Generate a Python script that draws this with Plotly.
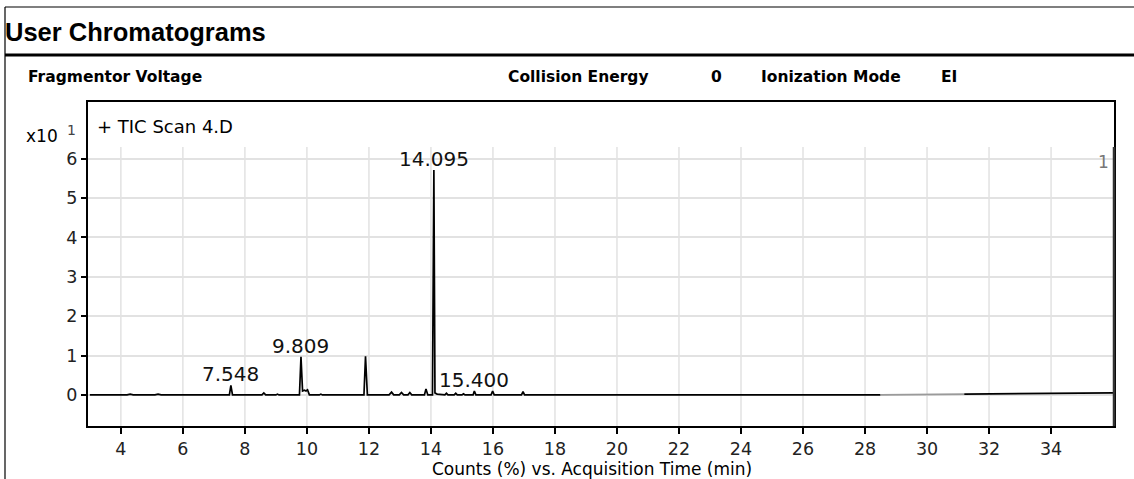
import plotly.graph_objects as go

# ---- data ----
time_min = [3.0, 4.2, 4.3, 4.4, 5.1, 5.2, 5.3, 7.50, 7.548, 7.60, 8.55, 8.61, 8.67,
            9.0, 9.05, 9.1, 9.76, 9.809, 9.86, 9.92, 9.97, 10.02, 10.08,
            10.4, 10.45, 10.5, 11.84, 11.89, 11.95, 12.65, 12.73, 12.8,
            12.98, 13.05, 13.12, 13.26, 13.32, 13.38, 13.79, 13.84, 13.9,
            14.05, 14.095, 14.13, 14.2, 14.45, 14.5, 14.55, 14.75, 14.8, 14.85,
            15.0, 15.05, 15.1, 15.36, 15.40, 15.45, 15.94, 15.99, 16.04,
            16.92, 16.97, 17.02, 28.5]
counts = [0.0, 0.0, 0.02, 0.0, 0.0, 0.02, 0.0, 0.0, 0.24, 0.0, 0.0, 0.05, 0.0,
          0.0, 0.02, 0.0, 0.0, 0.97, 0.10, 0.12, 0.10, 0.13, 0.0,
          0.0, 0.02, 0.0, 0.0, 0.98, 0.0, 0.0, 0.07, 0.0,
          0.0, 0.06, 0.0, 0.0, 0.06, 0.0, 0.0, 0.15, 0.0,
          0.0, 5.71, 0.05, 0.02, 0.0, 0.04, 0.0, 0.0, 0.04, 0.0,
          0.0, 0.03, 0.0, 0.0, 0.10, 0.0, 0.0, 0.10, 0.0,
          0.0, 0.08, 0.0, 0.0]
late_gray_t = [28.5, 31.2]
late_gray_c = [0.0, 0.02]
late_black_t = [31.2, 36.0]
late_black_c = [0.02, 0.05]

peak_labels = ["7.548", "9.809", "14.095", "15.400"]
peak_t = [7.548, 9.809, 14.095, 15.400]
peak_h = [0.24, 0.97, 5.71, 0.10]

x_ticks = [4, 6, 8, 10, 12, 14, 16, 18, 20, 22, 24, 26, 28, 30, 32, 34]
y_ticks = [0, 1, 2, 3, 4, 5, 6]

# ---- layout geometry (pixels) ----
W, H = 1134, 479
L, R, T, B = 88, 1114, 102, 426
X_RANGE = [2.94, 36.03]
Y_RANGE = [-0.79, 7.44]
FONT = "DejaVu Sans"


def px(x):
    return (x - L) / (R - L)


def py(y):
    return (B - y) / (B - T)


fig = go.Figure()
fig.add_trace(go.Scatter(x=time_min, y=counts, mode="lines",
                         line=dict(color="#000000", width=1.7), showlegend=False))
fig.add_trace(go.Scatter(x=late_gray_t, y=late_gray_c, mode="lines",
                         line=dict(color="#9a9a9a", width=1.7), showlegend=False))
fig.add_trace(go.Scatter(x=late_black_t, y=late_black_c, mode="lines",
                         line=dict(color="#000000", width=1.7), showlegend=False))

shapes = []
# vertical grid lines (stop below the header strip)
for t in x_ticks:
    shapes.append(dict(type="line", xref="x", yref="paper", x0=t, x1=t, y0=0, y1=py(147),
                       line=dict(color="#e2e2e2", width=1.5), layer="below"))
# thick right edge of the trace area
shapes.append(dict(type="line", xref="paper", yref="paper", x0=1, x1=1, y0=0, y1=py(147),
                   line=dict(color="#333333", width=2.5)))
# page frame
shapes.append(dict(type="line", xref="paper", yref="paper", x0=px(5), x1=px(5),
                   y0=py(7), y1=py(479), line=dict(color="#000000", width=1.2)))
shapes.append(dict(type="line", xref="paper", yref="paper", x0=px(5), x1=px(1134),
                   y0=py(7), y1=py(7), line=dict(color="#000000", width=1.2)))
# thick rule under the title
shapes.append(dict(type="line", xref="paper", yref="paper", x0=px(5), x1=px(1134),
                   y0=py(55), y1=py(55), line=dict(color="#000000", width=3)))

annotations = []


def text(s, x, y, size, xanchor="left", bold=False, color="#000000", family=FONT):
    annotations.append(dict(text=s, xref="paper", yref="paper", x=px(x), y=py(y),
                            xanchor=xanchor, yanchor="middle", showarrow=False,
                            font=dict(family=family, size=size, color=color,
                                      weight="bold" if bold else "normal")))


text("User Chromatograms", 3, 32, 25.5, bold=True, family="Liberation Sans")
text("Fragmentor Voltage", 26, 77, 15.5, bold=True)
text("Collision Energy", 506, 77, 15.5, bold=True)
text("0", 716, 77, 15.5, xanchor="center", bold=True)
text("Ionization Mode", 759, 77, 15.5, bold=True)
text("EI", 939, 77, 15.5, bold=True)
text("+ TIC Scan 4.D", 95, 126, 18)
text("x10", 24, 136, 17)
text("1", 71, 130, 14, xanchor="center", color="#444444")
text("1", 1103, 162, 17, xanchor="center", color="#777777")
text("Counts (%) vs. Acquisition Time (min)", 592, 469, 17, xanchor="center")

for lab, t, h in zip(peak_labels, peak_t, peak_h):
    annotations.append(dict(text=lab, xref="x", yref="y", x=t, y=h, xanchor="center",
                            yanchor="bottom", showarrow=False, yshift=-3,
                            font=dict(family=FONT, size=20, color="#111111")))

fig.update_layout(
    width=W, height=H,
    margin=dict(l=L, r=W - R, t=T, b=H - B),
    paper_bgcolor="white", plot_bgcolor="white",
    shapes=shapes, annotations=annotations,
    xaxis=dict(range=X_RANGE, tickvals=x_ticks, ticks="outside", ticklen=6, tickwidth=1.5,
               tickcolor="#000000", showgrid=False, zeroline=False,
               showline=True, linecolor="#000000", linewidth=2, mirror=True,
               tickfont=dict(family=FONT, size=17.5, color="#222222")),
    yaxis=dict(range=Y_RANGE, tickvals=y_ticks, ticks="outside", ticklen=5, tickwidth=1.5,
               tickcolor="#000000", showgrid=True, gridcolor="#e2e2e2", gridwidth=1.5,
               zeroline=False, showline=True, linecolor="#000000", linewidth=2, mirror=True,
               tickfont=dict(family=FONT, size=17.5, color="#222222")),
)

fig.write_html("out.html")
